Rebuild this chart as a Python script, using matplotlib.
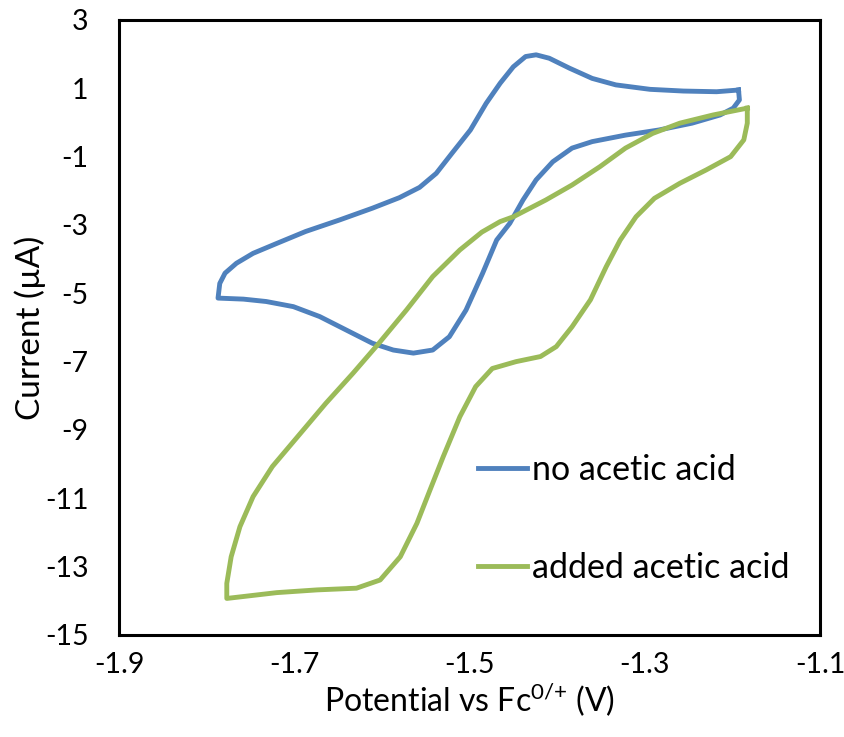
import matplotlib
matplotlib.use("Agg")
from matplotlib import pyplot as plt

plt.rcParams['font.family'] = ['Lato', 'DejaVu Sans']
plt.rcParams['axes.unicode_minus'] = False
plt.rcParams['mathtext.default'] = 'regular'

# cyclic voltammogram, no acetic acid (potential V vs Fc0/+, current uA)
blue_v = [-1.193, -1.192, -1.199, -1.214, -1.246, -1.284, -1.322, -1.360, -1.383, -1.405,
          -1.424, -1.439, -1.454, -1.469, -1.485, -1.504, -1.523, -1.542, -1.564, -1.587,
          -1.611, -1.641, -1.671, -1.701, -1.732, -1.758, -1.787,
          -1.785, -1.779, -1.766, -1.747, -1.720, -1.687, -1.648, -1.611, -1.580, -1.557,
          -1.538, -1.520, -1.499, -1.481, -1.465, -1.450, -1.436, -1.424, -1.409, -1.386,
          -1.360, -1.333, -1.294, -1.256, -1.218, -1.193]
blue_i = [0.95, 0.66, 0.42, 0.22, -0.02, -0.22, -0.37, -0.56, -0.75, -1.15,
          -1.68, -2.27, -2.95, -3.44, -4.41, -5.49, -6.27, -6.66, -6.75, -6.66,
          -6.46, -6.07, -5.68, -5.39, -5.24, -5.17, -5.14,
          -4.71, -4.41, -4.12, -3.83, -3.54, -3.19, -2.85, -2.51, -2.20, -1.90,
          -1.49, -0.90, -0.22, 0.56, 1.15, 1.63, 1.93, 1.98, 1.88, 1.59,
          1.29, 1.10, 0.97, 0.92, 0.90, 0.95]

# cyclic voltammogram, added acetic acid
green_v = [-1.183, -1.183, -1.187, -1.202, -1.230, -1.260, -1.289, -1.310, -1.328, -1.344,
           -1.362, -1.383, -1.401, -1.419, -1.447, -1.474, -1.493, -1.511, -1.530, -1.545,
           -1.560, -1.579, -1.602, -1.629, -1.674, -1.720, -1.777,
           -1.777, -1.772, -1.762, -1.747, -1.725, -1.693, -1.664, -1.633, -1.605, -1.572,
           -1.542, -1.511, -1.486, -1.465, -1.450, -1.413, -1.383, -1.351, -1.322, -1.291,
           -1.260, -1.222, -1.183]
green_i = [0.42, -0.02, -0.51, -1.00, -1.39, -1.78, -2.22, -2.76, -3.44, -4.22,
           -5.19, -5.98, -6.56, -6.85, -7.00, -7.20, -7.73, -8.61, -9.78, -10.75,
           -11.73, -12.71, -13.39, -13.63, -13.68, -13.76, -13.93,
           -13.49, -12.71, -11.83, -10.95, -10.07, -9.10, -8.22, -7.34, -6.51, -5.49,
           -4.51, -3.73, -3.21, -2.90, -2.76, -2.27, -1.83, -1.29, -0.75, -0.32,
           -0.02, 0.22, 0.42]

x_ticks = [-1.9, -1.7, -1.5, -1.3, -1.1]
y_ticks = list(range(-15, 4, 2))


def main():
    fig = plt.figure(figsize=(8.44, 7.37), dpi=100)
    ax = fig.add_axes([0.141, 0.1384, 0.8306, 0.8345])

    ax.plot(blue_v, blue_i, color='#4F81BD', lw=3.5, label='no acetic acid',
            solid_joinstyle='round')
    ax.plot(green_v, green_i, color='#9BBB59', lw=3.5, label='added acetic acid',
            solid_joinstyle='round')

    ax.set_xlim(-1.9, -1.1)
    ax.set_ylim(-15, 3)
    ax.set_xticks(x_ticks)
    ax.set_xticklabels(['%.1f' % v for v in x_ticks])
    ax.set_yticks(y_ticks)
    ax.tick_params(length=0, labelsize=20.5, colors='black')
    ax.tick_params(axis='x', pad=12)
    ax.tick_params(axis='y', pad=22)

    for sp in ax.spines.values():
        sp.set_linewidth(2.2)
        sp.set_color('black')

    ax.set_xlabel('Potential vs Fc$^{0/{+}}$ (V)', fontsize=23, labelpad=3)
    ax.set_ylabel('Current (\u00b5A)', fontsize=24, labelpad=-1)

    ax.legend(loc='lower left', bbox_to_anchor=(0.512, 0.083), frameon=False,
              fontsize=24.5, handlelength=1.45, handletextpad=0.15,
              labelspacing=1.95, borderaxespad=0, borderpad=0)

    fig.savefig('out.png', dpi=100)


if __name__ == "__main__":
    main()
